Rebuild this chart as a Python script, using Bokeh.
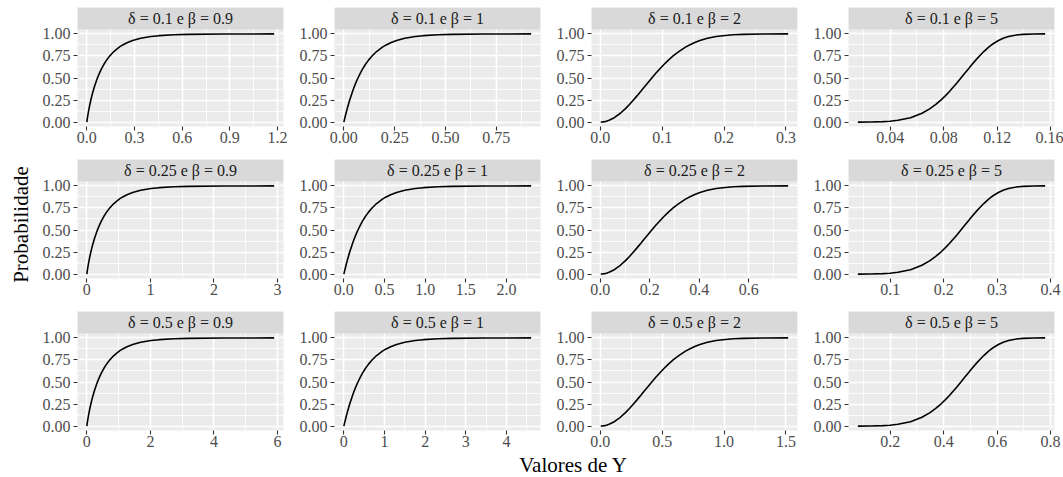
import math
from bokeh.plotting import figure
from bokeh.models import Range1d, FixedTicker, NumeralTickFormatter, Label
from bokeh.layouts import row, column
from bokeh.embed import file_html
from bokeh.resources import INLINE

FONT = "Liberation Serif"

# ---------------- data ----------------
deltas = ["0.1", "0.25", "0.5"]
betas = ["0.9", "1", "2", "5"]

# cumulative probability of the plotted points (shared by all panels)
prob = [0.0, 0.001, 0.005, 0.01, 0.02, 0.05, 0.1, 0.15, 0.2, 0.25, 0.3, 0.35, 0.4, 0.45,
        0.5, 0.55, 0.6, 0.65, 0.7, 0.75, 0.8, 0.85, 0.875, 0.9, 0.925, 0.95, 0.97, 0.98,
        0.99, 0.995, 0.999, 1.0]

# values of Y at those probabilities, one list per panel
y_d01_b09 = [0.0, 0.00005, 0.0003, 0.0006, 0.0013, 0.0037, 0.0082, 0.0133, 0.0189, 0.0250,
             0.0318, 0.0392, 0.0474, 0.0565, 0.0666, 0.0779, 0.0907, 0.1056, 0.1229, 0.1438,
             0.1697, 0.2037, 0.2256, 0.2526, 0.2879, 0.3384, 0.4031, 0.4552, 0.5457, 0.6377,
             0.8562, 1.1788]
y_d01_b1 = [0.0, 0.0001, 0.0005, 0.0010, 0.0020, 0.0051, 0.0105, 0.0163, 0.0223, 0.0288,
            0.0357, 0.0431, 0.0511, 0.0598, 0.0693, 0.0799, 0.0916, 0.1050, 0.1204, 0.1386,
            0.1609, 0.1897, 0.2079, 0.2303, 0.2590, 0.2996, 0.3507, 0.3912, 0.4605, 0.5298,
            0.6908, 0.9210]
y_d01_b2 = [0.0010, 0.0032, 0.0071, 0.0100, 0.0142, 0.0226, 0.0325, 0.0403, 0.0472, 0.0536,
            0.0597, 0.0656, 0.0715, 0.0773, 0.0833, 0.0894, 0.0957, 0.1025, 0.1097, 0.1177,
            0.1269, 0.1377, 0.1442, 0.1517, 0.1609, 0.1731, 0.1873, 0.1978, 0.2146, 0.2302,
            0.2628, 0.3035]
y_d01_b5 = [0.0158, 0.0251, 0.0347, 0.0398, 0.0458, 0.0552, 0.0638, 0.0695, 0.0741, 0.0779,
            0.0814, 0.0845, 0.0874, 0.0902, 0.0929, 0.0956, 0.0983, 0.1010, 0.1038, 0.1068,
            0.1100, 0.1137, 0.1158, 0.1182, 0.1210, 0.1245, 0.1285, 0.1314, 0.1357, 0.1396,
            0.1472, 0.1559]

y_d025_b09 = [0.0, 0.0001, 0.0007, 0.0015, 0.0033, 0.0092, 0.0205, 0.0332, 0.0472, 0.0626,
              0.0795, 0.0981, 0.1185, 0.1412, 0.1664, 0.1947, 0.2269, 0.2639, 0.3073, 0.3594,
              0.4242, 0.5093, 0.5639, 0.6315, 0.7198, 0.8460, 1.0078, 1.1380, 1.3642, 1.5942,
              2.1406, 2.9469]
y_d025_b1 = [0.0, 0.0003, 0.0013, 0.0025, 0.0051, 0.0128, 0.0263, 0.0406, 0.0558, 0.0719,
             0.0892, 0.1077, 0.1277, 0.1495, 0.1733, 0.1996, 0.2291, 0.2625, 0.3010, 0.3466,
             0.4024, 0.4743, 0.5199, 0.5756, 0.6476, 0.7489, 0.8766, 0.9780, 1.1513, 1.3246,
             1.7269, 2.3026]
y_d025_b2 = [0.0025, 0.0079, 0.0177, 0.0251, 0.0355, 0.0566, 0.0811, 0.1008, 0.1181, 0.1341,
             0.1493, 0.1641, 0.1787, 0.1933, 0.2081, 0.2234, 0.2393, 0.2562, 0.2743, 0.2944,
             0.3172, 0.3443, 0.3605, 0.3794, 0.4024, 0.4327, 0.4681, 0.4945, 0.5365, 0.5755,
             0.6571, 0.7587]
y_d025_b5 = [0.0396, 0.0628, 0.0867, 0.0996, 0.1146, 0.1380, 0.1594, 0.1738, 0.1852, 0.1949,
             0.2034, 0.2112, 0.2186, 0.2256, 0.2323, 0.2390, 0.2457, 0.2524, 0.2595, 0.2669,
             0.2750, 0.2842, 0.2894, 0.2954, 0.3024, 0.3113, 0.3213, 0.3284, 0.3393, 0.3490,
             0.3680, 0.3898]

y_d05_b09 = [0.0, 0.0002, 0.0014, 0.0030, 0.0065, 0.0184, 0.0410, 0.0664, 0.0944, 0.1252,
             0.1590, 0.1962, 0.2371, 0.2823, 0.3328, 0.3894, 0.4537, 0.5278, 0.6145, 0.7188,
             0.8484, 1.0185, 1.1278, 1.2631, 1.4396, 1.6921, 2.0156, 2.2761, 2.7284, 3.1883,
             4.2812, 5.8938]
y_d05_b1 = [0.0, 0.0005, 0.0025, 0.0050, 0.0101, 0.0256, 0.0527, 0.0813, 0.1116, 0.1438,
            0.1783, 0.2154, 0.2554, 0.2989, 0.3466, 0.3993, 0.4581, 0.5249, 0.6020, 0.6931,
            0.8047, 0.9486, 1.0397, 1.1513, 1.2951, 1.4979, 1.7533, 1.9560, 2.3026, 2.6492,
            3.4539, 4.6052]
y_d05_b2 = [0.0050, 0.0158, 0.0354, 0.0501, 0.0711, 0.1132, 0.1623, 0.2016, 0.2362, 0.2682,
            0.2986, 0.3282, 0.3574, 0.3866, 0.4163, 0.4468, 0.4786, 0.5123, 0.5486, 0.5887,
            0.6343, 0.6887, 0.7210, 0.7587, 0.8047, 0.8654, 0.9363, 0.9889, 1.0730, 1.1509,
            1.3141, 1.5174]
y_d05_b5 = [0.0792, 0.1256, 0.1734, 0.1992, 0.2291, 0.2760, 0.3188, 0.3477, 0.3704, 0.3897,
            0.4068, 0.4225, 0.4371, 0.4511, 0.4647, 0.4780, 0.4913, 0.5049, 0.5189, 0.5338,
            0.5499, 0.5683, 0.5788, 0.5908, 0.6048, 0.6227, 0.6426, 0.6568, 0.6786, 0.6979,
            0.7359, 0.7795]

panel_values = [
    [y_d01_b09, y_d01_b1, y_d01_b2, y_d01_b5],
    [y_d025_b09, y_d025_b1, y_d025_b2, y_d025_b5],
    [y_d05_b09, y_d05_b1, y_d05_b2, y_d05_b5],
]

# tick labels
y_ticks = [0.0, 0.25, 0.5, 0.75, 1.0]
y_minor = [0.125, 0.375, 0.625, 0.875]

x_ticks = [
    [[0, 0.3, 0.6, 0.9, 1.2], [0, 0.25, 0.5, 0.75], [0, 0.1, 0.2, 0.3], [0.04, 0.08, 0.12, 0.16]],
    [[0, 1, 2, 3], [0, 0.5, 1.0, 1.5, 2.0], [0, 0.2, 0.4, 0.6], [0.1, 0.2, 0.3, 0.4]],
    [[0, 2, 4, 6], [0, 1, 2, 3, 4], [0, 0.5, 1.0, 1.5], [0.2, 0.4, 0.6, 0.8]],
]
x_minor = [
    [[0.15, 0.45, 0.75, 1.05], [0.125, 0.375, 0.625, 0.875], [0.05, 0.15, 0.25], [0.02, 0.06, 0.10, 0.14]],
    [[0.5, 1.5, 2.5], [0.25, 0.75, 1.25, 1.75, 2.25], [0.1, 0.3, 0.5, 0.7], [0.05, 0.15, 0.25, 0.35]],
    [[1, 3, 5], [0.5, 1.5, 2.5, 3.5, 4.5], [0.25, 0.75, 1.25], [0.1, 0.3, 0.5, 0.7]],
]
x_formats = [
    ["0.0", "0.00", "0.0", "0.00"],
    ["0", "0.0", "0.0", "0.0"],
    ["0", "0", "0.0", "0.0"],
]

# ---------------- layout ----------------
FRAME_W = 206
FRAME_H = 97
STRIP_H = 22
YT_W = 34
lefts = [43, 43, 43, 43]
rights = [8, 8, 8, 9]
tops = [7, 0, 0]
bottoms = [33, 33, 23]

TICK_COLOR = "#333333"
LABEL_COLOR = "#4D4D4D"


def style_axis(ax, standoff):
    ax.axis_line_color = None
    ax.major_tick_line_color = TICK_COLOR
    ax.major_tick_line_width = 1.1
    ax.major_tick_in = 0
    ax.major_tick_out = 4
    ax.minor_tick_line_color = None
    ax.major_label_text_font = FONT
    ax.major_label_text_font_size = "16px"
    ax.major_label_text_color = LABEL_COLOR
    ax.major_label_standoff = standoff


y_top = 1.05 + STRIP_H * 1.1 / FRAME_H

rows = []
for r in range(3):
    panel_row = []
    for c in range(4):
        W = lefts[c] + FRAME_W + rights[c]
        xs = panel_values[r][c]
        lo, hi = min(xs), max(xs)
        pad = 0.05 * (hi - lo)
        x0, x1 = lo - pad, hi + pad
        p = figure(width=W, height=tops[r] + STRIP_H + FRAME_H + bottoms[r],
                   x_range=Range1d(x0, x1), y_range=Range1d(-0.05, y_top),
                   toolbar_location=None, output_backend="svg",
                   min_border_left=lefts[c], min_border_right=rights[c],
                   min_border_top=tops[r], min_border_bottom=bottoms[r],
                   background_fill_color="#EBEBEB", border_fill_color="white",
                   outline_line_color=None)
        # facet strip
        p.quad(left=[x0], right=[x1], bottom=[1.05], top=[y_top],
               fill_color="#D9D9D9", line_color=None)
        p.add_layout(Label(x=(x0 + x1) / 2, y=(1.05 + y_top) / 2,
                           text=f"\u03b4 = {deltas[r]} e \u03b2 = {betas[c]}",
                           text_align="center", text_baseline="middle", text_font=FONT,
                           text_font_size="16px", text_color="#1A1A1A"))
        p.line(xs, prob, line_color="black", line_width=1.6)
        p.xaxis.ticker = FixedTicker(ticks=x_ticks[r][c], minor_ticks=x_minor[r][c])
        p.yaxis.ticker = FixedTicker(ticks=y_ticks, minor_ticks=y_minor)
        p.xaxis.formatter = NumeralTickFormatter(format=x_formats[r][c])
        p.yaxis.formatter = NumeralTickFormatter(format="0.00")
        style_axis(p.xaxis[0], 1)
        style_axis(p.yaxis[0], 3)
        for g in (p.xgrid[0], p.ygrid[0]):
            g.grid_line_color = "white"
            g.grid_line_width = 1.6
            g.minor_grid_line_color = "white"
            g.minor_grid_line_width = 0.8
        panel_row.append(p)
    rows.append(row(*panel_row))

grid_h = sum(tops) + 3 * (STRIP_H + FRAME_H) + sum(bottoms)

ytitle = figure(width=YT_W, height=grid_h, x_range=Range1d(0, YT_W), y_range=Range1d(0, grid_h),
                x_axis_location=None, y_axis_location=None, toolbar_location=None,
                output_backend="svg", min_border=0, outline_line_color=None)
ytitle.grid.visible = False
ytitle.add_layout(Label(x=20, y=grid_h - 224, angle=math.pi / 2, text="Probabilidade",
                        text_align="center", text_baseline="middle", text_font=FONT,
                        text_font_size="21px", text_color="black"))

total_w = YT_W + sum(lefts) + 4 * FRAME_W + sum(rights)
xt_h = 477 - grid_h
xtitle = figure(width=total_w, height=xt_h, x_range=Range1d(0, total_w), y_range=Range1d(0, xt_h),
                x_axis_location=None, y_axis_location=None, toolbar_location=None,
                output_backend="svg", min_border=0, outline_line_color=None)
xtitle.grid.visible = False
xtitle.add_layout(Label(x=573, y=0.5, text="Valores de Y", text_align="center",
                        text_baseline="bottom", text_font=FONT, text_font_size="21px",
                        text_color="black"))

layout = column(row(ytitle, column(*rows)), xtitle)

open("out.html", "w").write(file_html(layout, INLINE))
